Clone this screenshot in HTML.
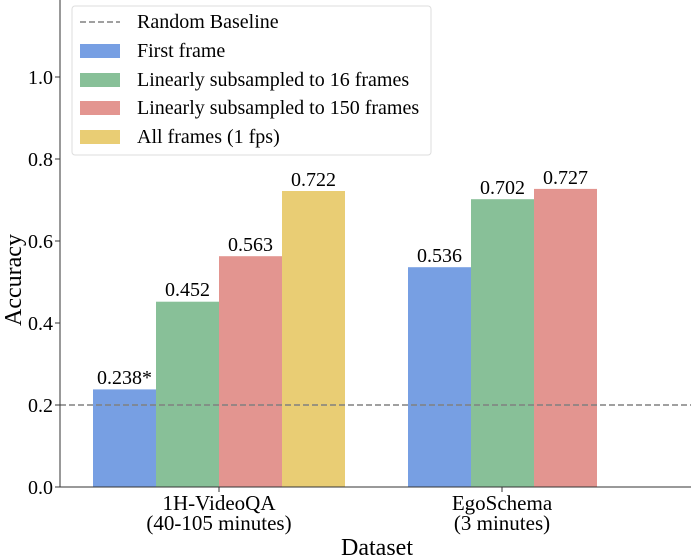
<!DOCTYPE html>
<html><head><meta charset="utf-8"><style>
html,body{margin:0;padding:0;background:#fff;}
svg{display:block;font-family:"Liberation Serif","DejaVu Serif",serif;}
</style></head><body>
<svg width="691" height="556" viewBox="0 0 691 556" xmlns="http://www.w3.org/2000/svg">
<g>
<rect x="93" y="389.4" width="63" height="97.6" fill="#779fe3"/>
<rect x="156" y="301.7" width="63" height="185.3" fill="#88c098"/>
<rect x="219" y="256.2" width="63" height="230.8" fill="#e39590"/>
<rect x="282" y="191" width="63" height="296" fill="#e9cd74"/>
<rect x="408" y="267.2" width="63" height="219.8" fill="#779fe3"/>
<rect x="471" y="199.2" width="63" height="287.8" fill="#88c098"/>
<rect x="534" y="188.9" width="63" height="298.1" fill="#e39590"/>
</g>
<line x1="60" y1="405" x2="691" y2="405" stroke="#808080" stroke-width="1.5" stroke-dasharray="6,3"/>
<line x1="60" y1="0" x2="60" y2="487" stroke="#333" stroke-width="1"/>
<line x1="60" y1="487" x2="691" y2="487" stroke="#333" stroke-width="1"/>
<g stroke="#333" stroke-width="1">
<line x1="55" y1="487" x2="60" y2="487"/><line x1="55" y1="405" x2="60" y2="405"/>
<line x1="55" y1="323" x2="60" y2="323"/><line x1="55" y1="241" x2="60" y2="241"/>
<line x1="55" y1="159" x2="60" y2="159"/><line x1="55" y1="77" x2="60" y2="77"/>
<line x1="219" y1="487" x2="219" y2="492"/><line x1="502" y1="487" x2="502" y2="492"/>
</g>
<g font-size="20" fill="#000" text-anchor="end">
<text x="53" y="494">0.0</text><text x="53" y="412">0.2</text><text x="53" y="330">0.4</text>
<text x="53" y="248">0.6</text><text x="53" y="166">0.8</text><text x="53" y="84">1.0</text>
</g>
<g font-size="20" fill="#000" text-anchor="middle">
<text x="124.5" y="384">0.238*</text>
<text x="187.5" y="296">0.452</text>
<text x="250.5" y="251">0.563</text>
<text x="313.5" y="186">0.722</text>
<text x="439.5" y="262">0.536</text>
<text x="502.5" y="194">0.702</text>
<text x="565.5" y="184">0.727</text>
<g font-size="21">
<text x="219" y="510">1H-VideoQA</text>
<text x="219" y="530">(40-105 minutes)</text>
<text x="502" y="510">EgoSchema</text>
<text x="502" y="530">(3 minutes)</text>
</g>
<text x="377" y="555" font-size="24">Dataset</text>
<text transform="translate(21,280) rotate(-90)" font-size="24">Accuracy</text>
</g>
<rect x="72" y="6" width="359" height="149" rx="3" fill="#fff" fill-opacity="0.85" stroke="#ddd" stroke-width="1"/>
<line x1="80" y1="22" x2="120" y2="22" stroke="#808080" stroke-width="1.5" stroke-dasharray="6,3"/>
<rect x="80" y="44" width="40" height="14" fill="#779fe3"/>
<rect x="80" y="73" width="40" height="14" fill="#88c098"/>
<rect x="80" y="101" width="40" height="14" fill="#e39590"/>
<rect x="80" y="130" width="40" height="14" fill="#e9cd74"/>
<g font-size="20" fill="#000">
<text x="137" y="28">Random Baseline</text>
<text x="137" y="57">First frame</text>
<text x="137" y="86">Linearly subsampled to 16 frames</text>
<text x="137" y="114">Linearly subsampled to 150 frames</text>
<text x="137" y="143">All frames (1 fps)</text>
</g>
</svg>
</body></html>
